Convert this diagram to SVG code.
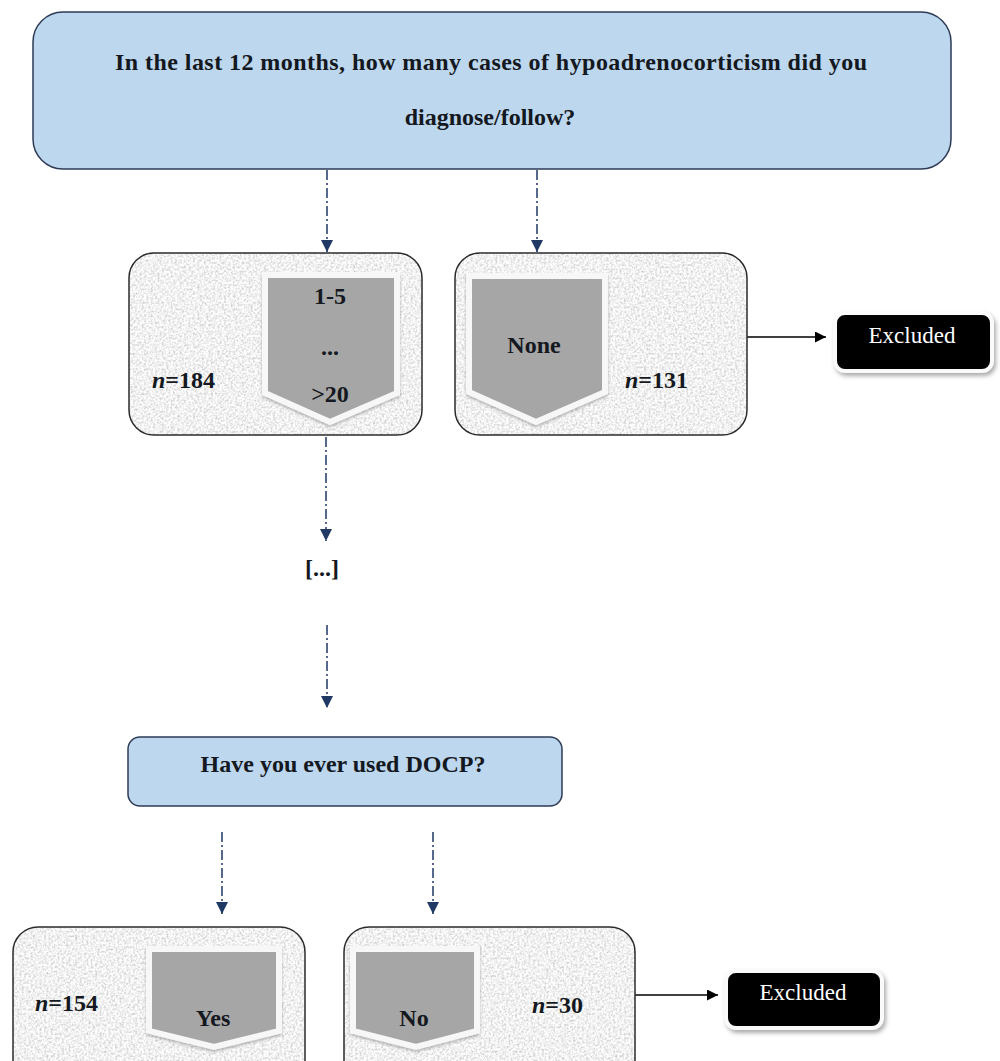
<svg xmlns="http://www.w3.org/2000/svg" width="1000" height="1061" viewBox="0 0 1000 1061">
<style>
.t{font-family:"Liberation Serif","Times New Roman",serif;font-weight:bold;font-size:24px;fill:#141820}
.c{text-anchor:middle}
.q{fill:#bdd7ee;stroke:#2e3b55;stroke-width:1.5}
.gb{fill:none;stroke:#2b2b2b;stroke-width:1.5}
.pent{fill:#a6a6a6;stroke:#f7f7f7;stroke-width:6;stroke-linejoin:miter}
.ex{fill:#000;stroke:#fafafa;stroke-width:4}
.ext{font-family:"Liberation Serif","Times New Roman",serif;font-size:23px;fill:#fff;text-anchor:middle}
.dd{fill:none;stroke:#1f3864;stroke-width:1.5;stroke-dasharray:10 3 2 3}
.sl{fill:none;stroke:#000;stroke-width:1.5}
</style>
<defs>
<filter id="speckle" x="0" y="0" width="1" height="1">
<feTurbulence type="fractalNoise" baseFrequency="0.45" numOctaves="3" seed="4" result="n"/>
<feColorMatrix in="n" type="matrix" values="0.8 0 0 0 0.48  0.8 0 0 0 0.48  0.8 0 0 0 0.48  0 0 0 0 1" result="g"/>
<feComposite in="g" in2="SourceGraphic" operator="in"/>
</filter>
<filter id="sh" x="-10%" y="-20%" width="125%" height="150%">
<feDropShadow dx="2" dy="3" stdDeviation="2" flood-color="#888" flood-opacity="0.7"/>
</filter>
<filter id="psh" x="-10%" y="-10%" width="125%" height="125%">
<feDropShadow dx="0" dy="2" stdDeviation="1.5" flood-color="#777" flood-opacity="0.5"/>
</filter>
<marker id="an" viewBox="0 0 10 10" refX="10" refY="5" markerWidth="12" markerHeight="13" markerUnits="userSpaceOnUse" orient="auto">
<path d="M0,0 L10,5 L0,10 z" fill="#1f3864"/>
</marker>
<marker id="ab" viewBox="0 0 10 10" refX="10" refY="5" markerWidth="12" markerHeight="11" markerUnits="userSpaceOnUse" orient="auto">
<path d="M0,0 L10,5 L0,10 z" fill="#000"/>
</marker>
</defs>
<rect width="1000" height="1061" fill="#fff"/>

<g id="connectors">
<line class="dd" x1="327" y1="170" x2="327" y2="252" marker-end="url(#an)"/>
<line class="dd" x1="537" y1="170" x2="537" y2="252" marker-end="url(#an)"/>
<line class="sl" x1="747" y1="337" x2="826" y2="337" marker-end="url(#ab)"/>
<line class="dd" x1="326" y1="437" x2="326" y2="541" marker-end="url(#an)"/>
<line class="dd" x1="327" y1="625" x2="327" y2="708" marker-end="url(#an)"/>
<line class="dd" x1="222" y1="832" x2="222" y2="914" marker-end="url(#an)"/>
<line class="dd" x1="433" y1="832" x2="433" y2="914" marker-end="url(#an)"/>
<line class="sl" x1="635" y1="995" x2="718" y2="995" marker-end="url(#ab)"/>
</g>

<g id="q1">
<rect class="q" x="33" y="12" width="918" height="157" rx="30"/>
<text class="t c" x="491" y="70" textLength="752" lengthAdjust="spacing">In the last 12 months,  how many  cases of hypoadrenocorticism  did  you</text>
<text class="t c" x="490" y="125">diagnose/follow?</text>
</g>

<g id="opt1">
<rect x="129" y="253" width="293" height="182" rx="25" fill="#fff" filter="url(#speckle)"/>
<rect class="gb" x="129" y="253" width="293" height="182" rx="25"/>
<polygon class="pent" points="265,275 397,275 397,393 330,422 265,393" filter="url(#psh)"/>
<text class="t c" x="330" y="304">1-5</text>
<text class="t c" x="330" y="355">...</text>
<text class="t c" x="330" y="402">&gt;20</text>
<text class="t" x="152" y="388"><tspan font-style="italic">n</tspan>=184</text>
</g>

<g id="opt2">
<rect x="455" y="253" width="292" height="182" rx="25" fill="#fff" filter="url(#speckle)"/>
<rect class="gb" x="455" y="253" width="292" height="182" rx="25"/>
<polygon class="pent" points="469,276 605,276 605,392 536,422 469,392" filter="url(#psh)"/>
<text class="t c" x="534" y="353">None</text>
<text class="t" x="625" y="388"><tspan font-style="italic">n</tspan>=131</text>
</g>

<g id="excl1">
<rect class="ex" x="835" y="313" width="157" height="58" rx="10" filter="url(#sh)"/>
<text class="ext" x="912" y="343">Excluded</text>
</g>

<g id="ellipsis">
<text class="t c" x="322" y="576">[...]</text>
</g>

<g id="q2">
<rect class="q" x="128" y="737" width="434" height="69" rx="12"/>
<text class="t c" x="343" y="772">Have you ever used DOCP?</text>
</g>

<g id="yes">
<rect x="13" y="927" width="292" height="160" rx="25" fill="#fff" filter="url(#speckle)"/>
<rect class="gb" x="13" y="927" width="292" height="160" rx="25"/>
<polygon class="pent" points="149,949 279,949 279,1031 214,1047 149,1031" filter="url(#psh)"/>
<text class="t c" x="213" y="1026">Yes</text>
<text class="t" x="35" y="1011"><tspan font-style="italic">n</tspan>=154</text>
</g>

<g id="no">
<rect x="344" y="927" width="291" height="160" rx="25" fill="#fff" filter="url(#speckle)"/>
<rect class="gb" x="344" y="927" width="291" height="160" rx="25"/>
<polygon class="pent" points="353,949 477,949 477,1031 416,1047 353,1031" filter="url(#psh)"/>
<text class="t c" x="414" y="1026">No</text>
<text class="t" x="532" y="1013"><tspan font-style="italic">n</tspan>=30</text>
</g>

<g id="excl2">
<rect class="ex" x="726" y="971" width="156" height="57" rx="10" filter="url(#sh)"/>
<text class="ext" x="803" y="1000">Excluded</text>
</g>
</svg>
